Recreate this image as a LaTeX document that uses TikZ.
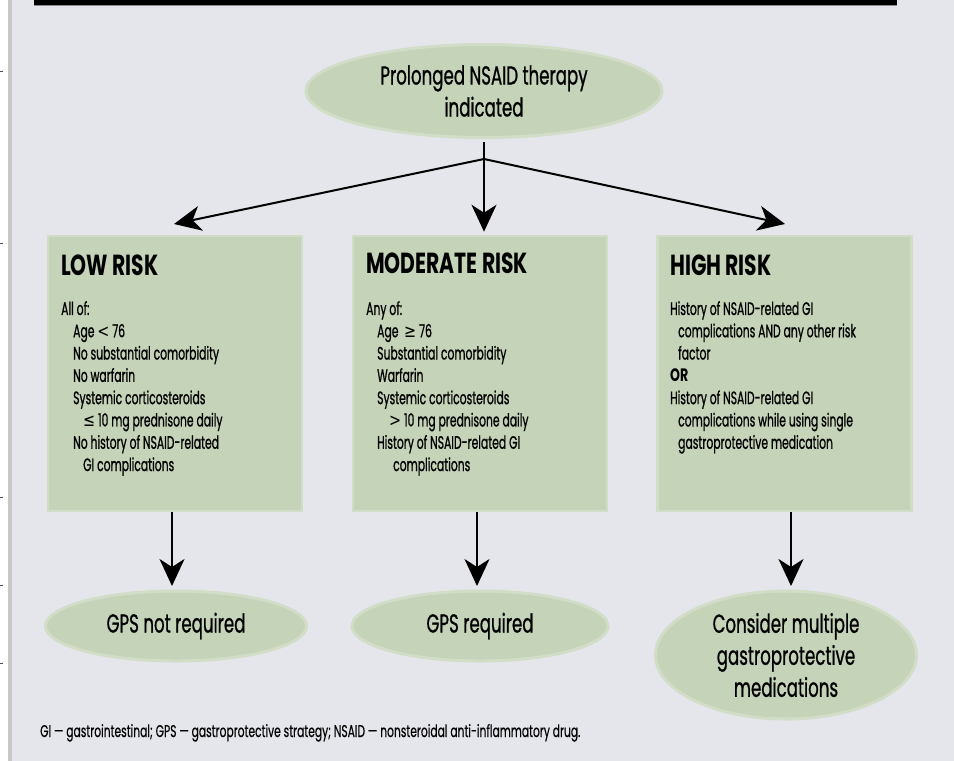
\documentclass[tikz,border=0pt]{standalone}
\usepackage{fontspec}
\setmainfont{Poppins}[FakeStretch=0.6,UprightFeatures={FakeBold=0.8}]
\newfontfamily\ovalfont{Poppins}[FakeStretch=0.64,FakeBold=0.8]
\newfontfamily\titlefont{Poppins Bold}[FakeStretch=0.7]
\newfontfamily\notefont{Poppins}[FakeStretch=0.63,FakeBold=0.4]
\newfontfamily\symfont{DejaVu Sans}[FakeStretch=0.8]
\usetikzlibrary{shapes.geometric,arrows.meta}

\definecolor{panel}{HTML}{E5E6EB}
\definecolor{sage}{HTML}{C5D3B8}
\definecolor{sagerim}{HTML}{D2DDC8}

\begin{document}
\begin{tikzpicture}[x=1pt,y=-1pt,
    riskbox/.style={rectangle,fill=sage,draw=sagerim,line width=2.5pt,
      minimum width=254pt,minimum height=275pt,inner sep=0pt},
    outcome/.style={ellipse,fill=sage,draw=sagerim,line width=3pt,inner sep=0pt,
      align=center,font=\ovalfont\fontsize{26}{32}\selectfont},
    boxtitle/.style={anchor=base west,inner sep=0pt,font=\titlefont\fontsize{29}{30}\selectfont},
    boxbody/.style={anchor=north west,inner sep=0pt,align=left,font=\fontsize{18}{22.3}\selectfont},
    arr/.style={line width=2pt,-{Stealth[length=27pt,width=25pt,inset=8pt]}}]
  \useasboundingbox (0,0) rectangle (954,761);
  % page background and top rule
  \fill[white] (0,0) rectangle (954,761);
  \fill[panel] (12,0) rectangle (954,761);
  \fill[black!22] (8,0) rectangle (12,761);
  \fill[black] (34,0) rectangle (897,5);
  \draw[black!45] (34,5.5) -- (897,5.5);
  \foreach \y in {71,243,497,585,663}
    \draw[black!70] (0,\y) -- (3,\y);

  % start
  \node[outcome,minimum width=356pt,minimum height=93pt] (start) at (484,91) {Prolonged NSAID therapy\\indicated};
  \coordinate (split) at (484,159);

  % risk groups
  \node[riskbox] (low) at (175,373.5) {};
  \node[riskbox] (mod) at (480,373.5) {};
  \node[riskbox] (high) at (784.5,373.5) {};

  \node[boxtitle] (lowtitle) at (61,275) {LOW RISK};
  \node[boxbody] (lowbody) at (61,301) {All of:\\
    \hspace*{12pt}Age {\symfont <} 76\\
    \hspace*{12pt}No substantial comorbidity\\
    \hspace*{12pt}No warfarin\\
    \hspace*{12pt}Systemic corticosteroids\\
    \hspace*{22pt}{\symfont ≤} 10 mg prednisone daily\\
    \hspace*{12pt}No history of NSAID-related\\
    \hspace*{22pt}GI complications};

  \node[boxtitle] (modtitle) at (366,273) {MODERATE RISK};
  \node[boxbody] (modbody) at (366,301) {Any of:\\
    \hspace*{11pt}Age \ {\symfont ≥} 76\\
    \hspace*{11pt}Substantial comorbidity\\
    \hspace*{11pt}Warfarin\\
    \hspace*{11pt}Systemic corticosteroids\\
    \hspace*{23pt}{\symfont >} 10 mg prednisone daily\\
    \hspace*{11pt}History of NSAID-related GI\\
    \hspace*{27pt}complications};

  \node[boxtitle] (hightitle) at (670,275) {HIGH RISK};
  \node[boxbody] (highbody) at (670,301) {History of NSAID-related GI\\
    \hspace*{8pt}complications AND any other risk\\
    \hspace*{8pt}factor\\
    {\titlefont OR}\\
    History of NSAID-related GI\\
    \hspace*{8pt}complications while using single\\
    \hspace*{8pt}gastroprotective medication};

  % outcomes
  \node[outcome,minimum width=261pt,minimum height=70pt] (lowgps) at (176,626) {GPS not required};
  \node[outcome,minimum width=256pt,minimum height=70pt] (modgps) at (480,626) {GPS required};
  \node[outcome,minimum width=261pt,minimum height=128pt] (highgps) at (786,655) {Consider multiple\\gastroprotective\\medications};

  % arrows
  \coordinate (lowtip) at (174,224);
  \coordinate (hightip) at (785,224);
  \draw[line width=2pt,shorten <=3pt] (start.south) -- (split);
  \draw[arr] (split) -- (lowtip);
  \draw[arr,shorten >=3pt] (split) -- (split |- mod.north);
  \draw[arr] (split) -- (hightip);
  \draw[arr,shorten >=3.5pt] ([xshift=-3pt]low.south) -- ([xshift=-3pt]low.south |- lowgps.north);
  \draw[arr,shorten >=3.5pt] ([xshift=-3pt]mod.south) -- ([xshift=-3pt]mod.south |- modgps.north);
  \draw[arr,shorten >=3.5pt] ([xshift=6.5pt]high.south) -- ([xshift=6.5pt]high.south |- highgps.north);

  \node[anchor=base west,inner sep=0pt,font=\notefont\fontsize{17}{20}\selectfont] (note) at (40,737)
    {GI\,—\,gastrointestinal; GPS\,—\,gastroprotective strategy; NSAID\,—\,nonsteroidal anti-inflammatory drug.};
\end{tikzpicture}
\end{document}
